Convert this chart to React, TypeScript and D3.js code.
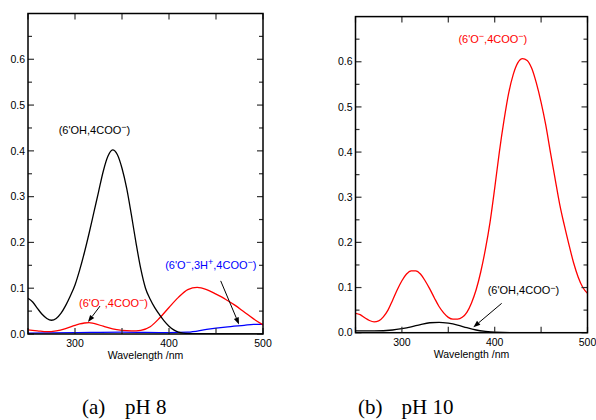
import React from 'react';
import * as d3 from 'd3';

// absorbance spectra, [wavelength nm, absorbance]
const ph8Neutral: [number, number][] = [
  [250, 0.078], [255, 0.07], [260, 0.056], [265, 0.043], [270, 0.034], [275, 0.03],
  [280, 0.034], [285, 0.045], [290, 0.062], [295, 0.083], [300, 0.107], [305, 0.14],
  [310, 0.178], [315, 0.22], [320, 0.265], [325, 0.31], [330, 0.355], [335, 0.388],
  [340, 0.402], [345, 0.392], [350, 0.362], [355, 0.318], [360, 0.26], [365, 0.198],
  [370, 0.142], [375, 0.1], [380, 0.076], [385, 0.057], [390, 0.042], [395, 0.028],
  [400, 0.017], [405, 0.009], [410, 0.004], [415, 0.002], [430, 0.001], [500, 0.0],
];
const ph8Anion: [number, number][] = [
  [250, 0.009], [260, 0.007], [270, 0.005], [280, 0.007], [290, 0.012], [300, 0.019],
  [305, 0.022], [310, 0.024], [315, 0.025], [320, 0.023], [330, 0.017], [340, 0.011],
  [350, 0.008], [360, 0.007], [365, 0.007], [370, 0.008], [380, 0.016], [390, 0.035],
  [400, 0.058], [410, 0.08], [420, 0.097], [430, 0.102], [440, 0.097], [450, 0.087],
  [460, 0.076], [470, 0.063], [480, 0.048], [490, 0.033], [500, 0.02],
];
const ph8Protonated: [number, number][] = [
  [250, 0.002], [300, 0.003], [350, 0.004], [400, 0.003], [420, 0.004], [440, 0.01],
  [460, 0.015], [480, 0.019], [490, 0.021], [500, 0.021],
];
const ph10Anion: [number, number][] = [
  [250, 0.043], [255, 0.04], [260, 0.033], [265, 0.027], [270, 0.024], [275, 0.026],
  [280, 0.035], [285, 0.05], [290, 0.072], [295, 0.095], [300, 0.115], [305, 0.13],
  [310, 0.137], [315, 0.137], [320, 0.13], [325, 0.115], [330, 0.097], [335, 0.077],
  [340, 0.058], [345, 0.044], [350, 0.034], [355, 0.03], [360, 0.03], [365, 0.034],
  [370, 0.045], [375, 0.066], [380, 0.095], [385, 0.135], [390, 0.185], [395, 0.245],
  [400, 0.32], [405, 0.4], [410, 0.47], [415, 0.53], [420, 0.572], [425, 0.598],
  [430, 0.607], [435, 0.603], [440, 0.585], [445, 0.552], [450, 0.51], [455, 0.46],
  [460, 0.4], [465, 0.342], [470, 0.285], [475, 0.238], [480, 0.195], [485, 0.155],
  [490, 0.123], [495, 0.1], [500, 0.087],
];
const ph10Neutral: [number, number][] = [
  [250, 0.004], [270, 0.004], [290, 0.006], [300, 0.009], [310, 0.013], [320, 0.018],
  [330, 0.022], [340, 0.023], [350, 0.021], [360, 0.017], [370, 0.011], [380, 0.006],
  [390, 0.003], [400, 0.001], [420, 0.0], [500, 0.0],
];

const xTicks = [250, 300, 350, 400, 450, 500];
const xTickLabels = [300, 400, 500];
const yMajor = [0, 0.1, 0.2, 0.3, 0.4, 0.5, 0.6];
const yMinor = [0.05, 0.15, 0.25, 0.35, 0.45, 0.55, 0.65];

type Part = { t: string; sup?: boolean };
type Note = { parts: Part[]; at: [number, number]; color: string };
type Arrow = { from: [number, number]; to: [number, number] };

const lblNeutral: Part[] = [{ t: "(6'OH,4COO" }, { t: '\u2212', sup: true }, { t: ')' }];
const lblAnion: Part[] = [{ t: "(6'O" }, { t: '\u2212', sup: true }, { t: ',4COO' }, { t: '\u2212', sup: true }, { t: ')' }];
const lblProt: Part[] = [
  { t: "(6'O" }, { t: '\u2212', sup: true }, { t: ',3H' }, { t: '+', sup: true },
  { t: ',4COO' }, { t: '\u2212', sup: true }, { t: ')' },
];

const font = 'Arial, "Liberation Sans", Helvetica, sans-serif';

type PanelProps = {
  box: { x0: number; x1: number; y0: number; y1: number };
  curves: { data: [number, number][]; color: string }[];
  notes: Note[];
  arrows: Arrow[];
};

const Label = ({ parts, x, y, color }: { parts: Part[]; x: number; y: number; color: string }) => {
  let raised = false;
  return (
    <text x={x} y={y} dy="0.35em" textAnchor="middle" fill={color} fontSize={11} fontFamily={font}>
      {parts.map((p, i) => {
        let dy = 0;
        if (p.sup && !raised) { dy = -3.5; raised = true; }
        else if (!p.sup && raised) { dy = 3.5; raised = false; }
        return (
          <tspan key={i} dy={dy} fontSize={p.sup ? 9 : 11}>{p.t}</tspan>
        );
      })}
    </text>
  );
};

const Panel = ({ box, curves, notes, arrows }: PanelProps) => {
  const x = d3.scaleLinear().domain([250, 500]).range([box.x0, box.x1]);
  const y = d3.scaleLinear().domain([0, 0.7]).range([box.y0, box.y1]);
  const line = d3.line<[number, number]>()
    .x(d => x(d[0]))
    .y(d => y(d[1]))
    .curve(d3.curveMonotoneX);
  const tick = '#333';
  return (
    <g>
      <defs>
        <clipPath id={`clip${box.x0}`}>
          <rect x={box.x0} y={box.y1} width={box.x1 - box.x0} height={box.y0 - box.y1} />
        </clipPath>
      </defs>
      {curves.map((c, i) => (
        <path key={i} d={line(c.data) || ''} fill="none" stroke={c.color} strokeWidth={1.3}
          clipPath={`url(#clip${box.x0})`} />
      ))}
      {xTicks.map(t => (
        <g key={t}>
          <line x1={x(t)} x2={x(t)} y1={box.y0} y2={box.y0 - 6} stroke={tick} strokeWidth={1.2} />
          <line x1={x(t)} x2={x(t)} y1={box.y1} y2={box.y1 + 6} stroke={tick} strokeWidth={1.2} />
        </g>
      ))}
      {yMajor.map(t => (
        <g key={t}>
          <line x1={box.x0} x2={box.x0 + 6} y1={y(t)} y2={y(t)} stroke={tick} strokeWidth={1.2} />
          <line x1={box.x1} x2={box.x1 - 6} y1={y(t)} y2={y(t)} stroke={tick} strokeWidth={1.2} />
          <text x={box.x0 - 3} y={y(t)} dy="0.35em" textAnchor="end" fontSize={10.5} fontFamily={font}>
            {d3.format('.1f')(t)}
          </text>
        </g>
      ))}
      {yMinor.map(t => (
        <g key={t}>
          <line x1={box.x0} x2={box.x0 + 4} y1={y(t)} y2={y(t)} stroke={tick} strokeWidth={1.2} />
          <line x1={box.x1} x2={box.x1 - 4} y1={y(t)} y2={y(t)} stroke={tick} strokeWidth={1.2} />
        </g>
      ))}
      {xTickLabels.map(t => (
        <text key={t} x={x(t)} y={box.y0 + 13} textAnchor="middle" fontSize={10.5} fontFamily={font}>{t}</text>
      ))}
      <text x={(box.x0 + box.x1) / 2} y={box.y0 + 25} textAnchor="middle" fontSize={10.5} fontFamily={font}>
        Wavelength /nm
      </text>
      <rect x={box.x0} y={box.y1} width={box.x1 - box.x0} height={box.y0 - box.y1}
        fill="none" stroke="#000" strokeWidth={1.5} />
      {notes.map((n, i) => (
        <Label key={i} parts={n.parts} x={x(n.at[0])} y={y(n.at[1])} color={n.color} />
      ))}
      {arrows.map((a, i) => {
        const x1 = x(a.from[0]), y1 = y(a.from[1]), x2 = x(a.to[0]), y2 = y(a.to[1]);
        const ang = Math.atan2(y2 - y1, x2 - x1);
        const len = 7, w = 2.6;
        const bx = x2 - len * Math.cos(ang), by = y2 - len * Math.sin(ang);
        const px = -Math.sin(ang) * w, py = Math.cos(ang) * w;
        return (
          <g key={i}>
            <line x1={x1} y1={y1} x2={bx} y2={by} stroke="#000" strokeWidth={1} />
            <path d={`M${x2},${y2}L${bx + px},${by + py}L${bx - px},${by - py}Z`} fill="#000" />
          </g>
        );
      })}
    </g>
  );
};

export default function App() {
  return (
    <svg width={596} height={420} style={{ position: 'absolute', left: 0, top: 0, background: '#fff' }}>
      <Panel
        box={{ x0: 28, x1: 263, y0: 334, y1: 13.5 }}
        curves={[
          { data: ph8Protonated, color: '#0000ff' },
          { data: ph8Anion, color: '#ff0000' },
          { data: ph8Neutral, color: '#000000' },
        ]}
        notes={[
          { parts: lblNeutral, at: [320.7, 0.437], color: '#000' },
          { parts: lblAnion, at: [341, 0.06], color: '#ff0000' },
          { parts: lblProt, at: [444.5, 0.142], color: '#0000ff' },
        ]}
        arrows={[
          { from: [326.6, 0.061], to: [313.8, 0.026] },
          { from: [455, 0.116], to: [474.5, 0.021] },
        ]}
      />
      <Panel
        box={{ x0: 355.5, x1: 587.5, y0: 332.7, y1: 16.6 }}
        curves={[
          { data: ph10Neutral, color: '#000000' },
          { data: ph10Anion, color: '#ff0000' },
        ]}
        notes={[
          { parts: lblAnion, at: [398, 0.642], color: '#ff0000' },
          { parts: lblNeutral, at: [431, 0.0857], color: '#000' },
        ]}
        arrows={[
          { from: [407.5, 0.065], to: [377, 0.012] },
        ]}
      />
      <text y={414} fontSize={21} fontFamily='"Times New Roman", "Liberation Serif", serif'>
        <tspan x={82}>(a)</tspan>
        <tspan x={125}>pH 8</tspan>
      </text>
      <text y={414} fontSize={21} fontFamily='"Times New Roman", "Liberation Serif", serif'>
        <tspan x={358}>(b)</tspan>
        <tspan x={401.5}>pH 10</tspan>
      </text>
    </svg>
  );
}
